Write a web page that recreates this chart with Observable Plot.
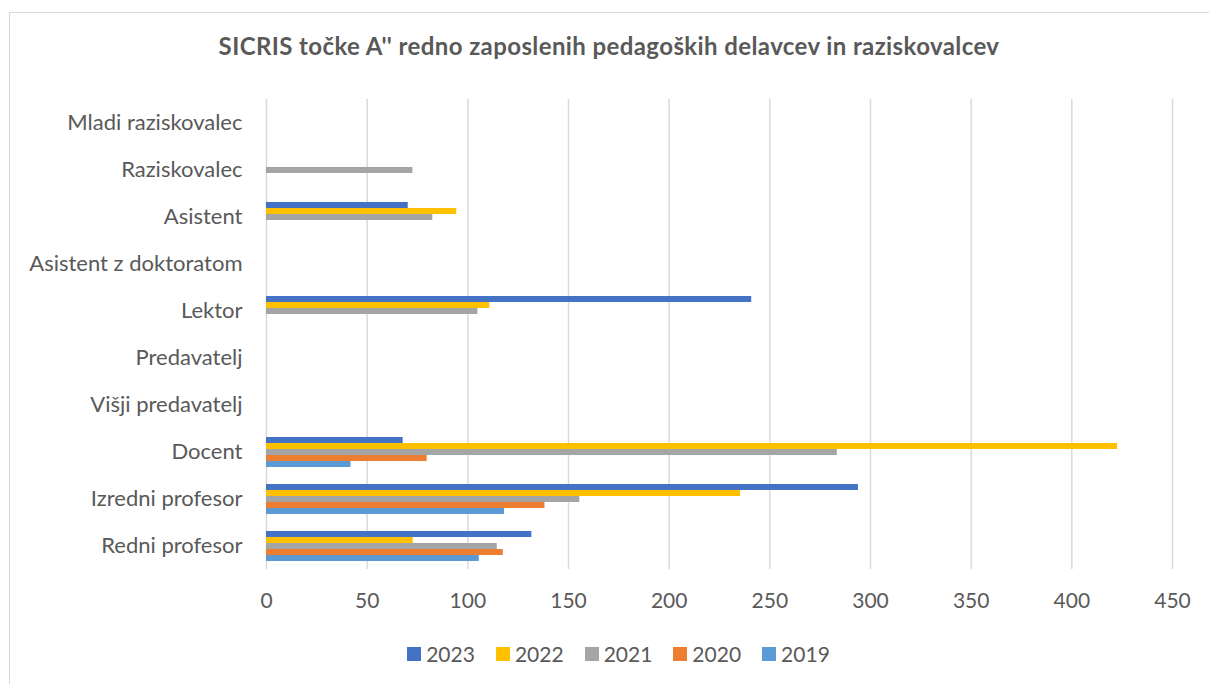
<!DOCTYPE html>
<html><head><meta charset="utf-8">
<script src="https://cdn.jsdelivr.net/npm/d3@7"></script>
<script src="https://cdn.jsdelivr.net/npm/@observablehq/plot@0.6"></script>
<style>
body{margin:0;background:#fff;font-family:Lato,"Open Sans",sans-serif;}
#wrap{position:relative;width:1209px;height:684px;overflow:hidden;background:#fff}
#frame{position:absolute;left:9px;top:12px;width:1400px;height:900px;border:1.5px solid #d9d9d9;box-sizing:border-box}
#title{position:absolute;top:31px;left:0;width:1218px;text-align:center;font-weight:bold;font-size:24px;letter-spacing:0.4px;color:#595959;line-height:30px}
#chart{position:absolute;left:0;top:0}
#legend{position:absolute;top:641px;left:0;width:1237px;display:flex;justify-content:center;gap:21px;font-size:21px;color:#595959;line-height:26px}
#legend .it{display:flex;align-items:center;gap:5px}
#legend .sw{width:14px;height:14px;display:inline-block}
</style>
</head><body>
<div id="wrap">
<div id="frame"></div>
<div id="title">SICRIS točke A'' redno zaposlenih pedagoških delavcev in raziskovalcev</div>
<div id="chart"></div>
<div id="legend"></div>
</div>
<script>
const categories = ["Mladi raziskovalec","Raziskovalec","Asistent","Asistent z doktoratom","Lektor","Predavatelj","Višji predavatelj","Docent","Izredni profesor","Redni profesor"];
const years = ["2023","2022","2021","2020","2019"];
const colors = ["#4472C4","#FFC000","#A5A5A5","#ED7D31","#5B9BD5"];
const xTicks = [0,50,100,150,200,250,300,350,400,450];
// values per year, in category order (0 = no bar)
const v2023 = [0,0,70.4,0,241,0,0,67.9,294,131.8];
const v2022 = [0,0,94.5,0,110.9,0,0,422.7,235.5,72.9];
const v2021 = [0,72.7,82.6,0,105,0,0,283.5,155.6,114.6];
const v2020 = [0,0,0,0,0,0,0,79.8,138.3,117.6];
const v2019 = [0,0,0,0,0,0,0,42,118.2,105.7];
const series = [v2023,v2022,v2021,v2020,v2019];

const rows = [];
years.forEach((y,i)=>categories.forEach((c,j)=>{
  rows.push({category:c, year:y, value:series[i][j]});
}));

const chart = Plot.plot({
  width:1209, height:640,
  marginTop:98, marginBottom:70, marginLeft:266, marginRight:37,
  style:{fontFamily:"Lato, 'Open Sans', sans-serif", background:"transparent"},
  x:{domain:[0,450]},
  y:{domain:years, paddingInner:0.05, paddingOuter:0.95, axis:null},
  fy:{domain:categories, padding:0, axis:null},
  color:{domain:years, range:colors},
  marks:[
    Plot.gridX(xTicks,{stroke:"#d9d9d9", strokeOpacity:1, strokeWidth:1.5}),
    Plot.barX(rows,{x:"value", y:"year", fy:"category", fill:"year"}),
    Plot.axisX({ticks:xTicks, tickSize:0, tickPadding:24, fontSize:21, color:"#595959", label:null, facetAnchor:"bottom"}),
    Plot.axisFy({anchor:"left", tickSize:0, tickPadding:24, fontSize:22, color:"#595959", label:null})
  ]
});
document.getElementById("chart").appendChild(chart);

const lg = document.getElementById("legend");
years.forEach((y,i)=>{
  const it = document.createElement("span"); it.className="it";
  const sw = document.createElement("span"); sw.className="sw"; sw.style.background=colors[i];
  const t = document.createElement("span"); t.textContent=y;
  it.appendChild(sw); it.appendChild(t); lg.appendChild(it);
});
</script>
</body></html>
